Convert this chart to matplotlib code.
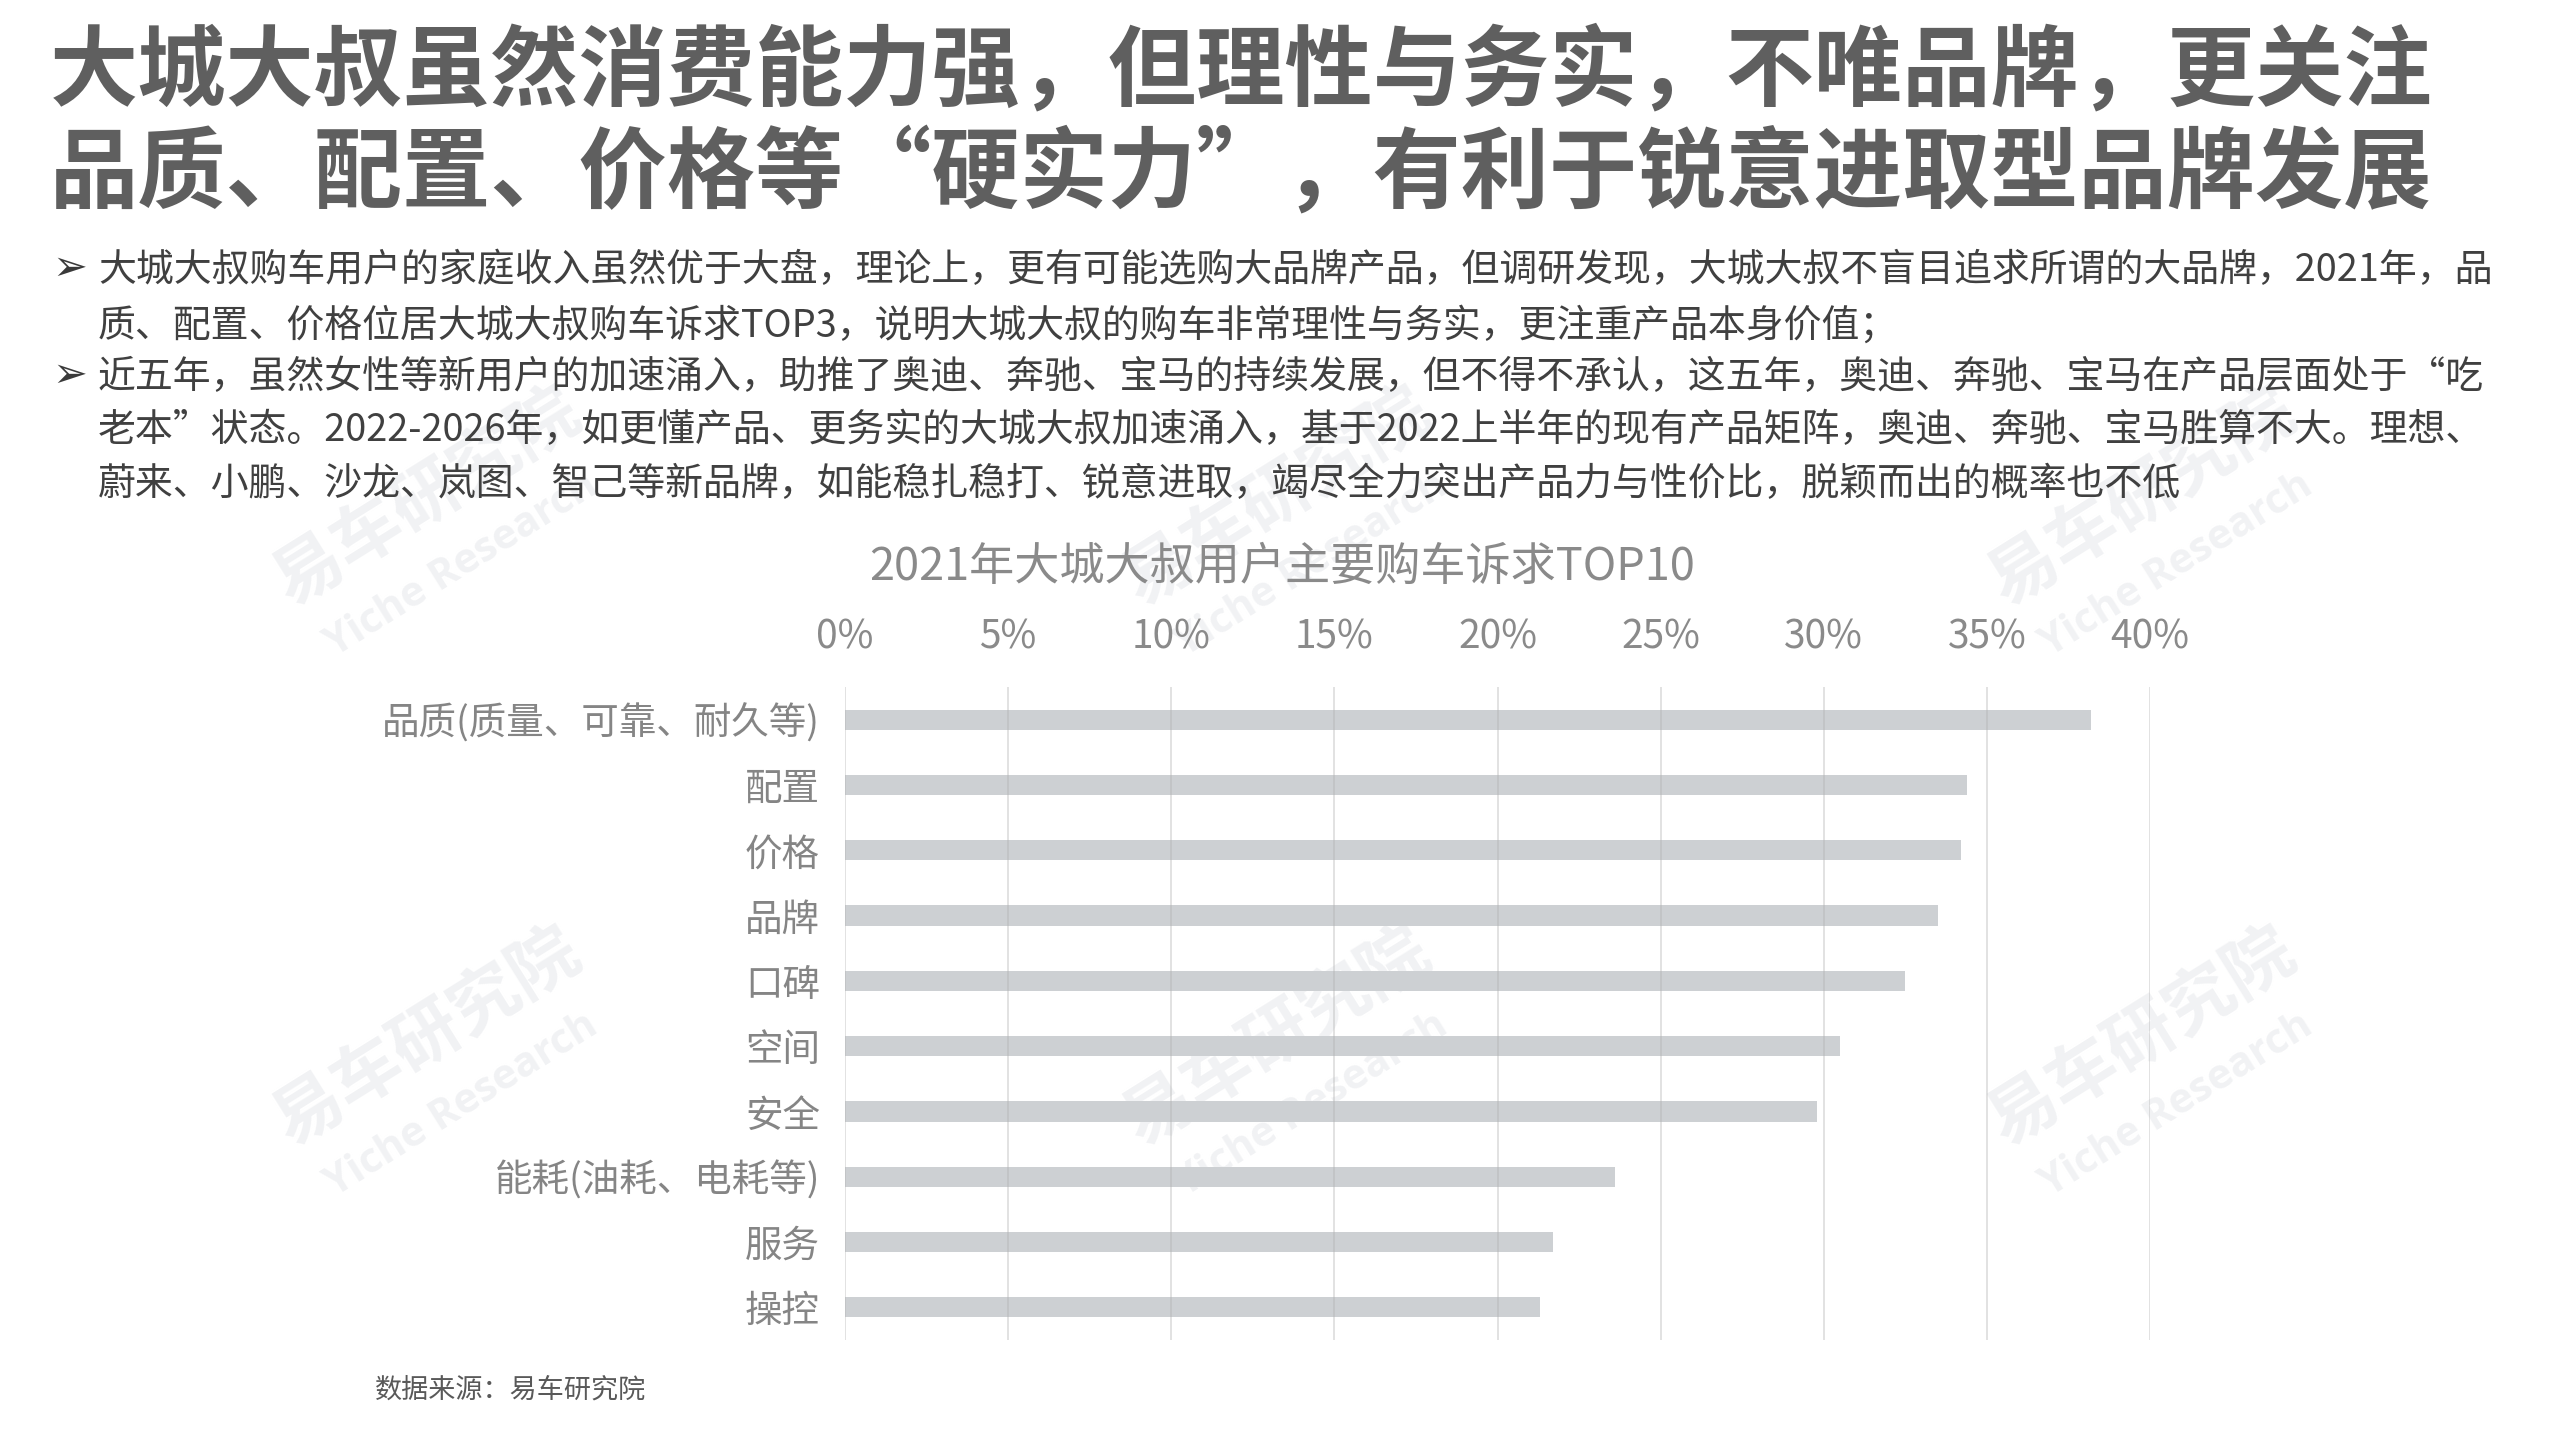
import matplotlib
matplotlib.use("Agg")
import matplotlib.pyplot as plt
import numpy as np

plt.rcParams['font.family'] = ['Noto Sans CJK SC', 'DejaVu Sans']

# 数据
categories = ['品质(质量、可靠、耐久等)', '配置', '价格', '品牌', '口碑',
              '空间', '安全', '能耗(油耗、电耗等)', '服务', '操控']
shares = [38.2, 34.4, 34.2, 33.5, 32.5, 30.5, 29.8, 23.6, 21.7, 21.3]
x_ticks = [0, 5, 10, 15, 20, 25, 30, 35, 40]

headline = ["大城大叔虽然消费能力强，但理性与务实，不唯品牌，更关注",
            "品质、配置、价格等“硬实力”，有利于锐意进取型品牌发展"]
bullet_1 = ["大城大叔购车用户的家庭收入虽然优于大盘，理论上，更有可能选购大品牌产品，但调研发现，大城大叔不盲目追求所谓的大品牌，2021年，品",
            "质、配置、价格位居大城大叔购车诉求TOP3，说明大城大叔的购车非常理性与务实，更注重产品本身价值；"]
bullet_2 = ["近五年，虽然女性等新用户的加速涌入，助推了奥迪、奔驰、宝马的持续发展，但不得不承认，这五年，奥迪、奔驰、宝马在产品层面处于“吃",
            "老本”状态。2022-2026年，如更懂产品、更务实的大城大叔加速涌入，基于2022上半年的现有产品矩阵，奥迪、奔驰、宝马胜算不大。理想、",
            "蔚来、小鹏、沙龙、岚图、智己等新品牌，如能稳扎稳打、锐意进取，竭尽全力突出产品力与性价比，脱颖而出的概率也不低"]
chart_title = "2021年大城大叔用户主要购车诉求TOP10"
source = "数据来源：易车研究院"

W, H = 2560, 1440
fig = plt.figure(figsize=(W / 100, H / 100), dpi=100, facecolor="white")

def fx(px):
    return px / W

def fy(py):
    return 1 - py / H

# 水印
for (cx, cy) in [(440, 520), (1290, 520), (2155, 520), (440, 1060), (1290, 1060), (2155, 1060)]:
    fig.text(fx(cx - 12), fy(cy - 22), "易车研究院", rotation=32, ha="center", va="center",
             fontsize=50, fontweight="bold", color="#f1f2f4", zorder=-5)
    fig.text(fx(cx + 22), fy(cy + 45), "Yiche Research", rotation=32, ha="center", va="center",
             fontsize=30, fontweight="bold", color="#f1f2f4", zorder=-5,
             family=["Open Sans", "DejaVu Sans"])

# 标题
for i, line in enumerate(headline):
    fig.text(fx(50), fy(72 + i * 103), line, ha="left", va="center",
             fontsize=63.5, fontweight="bold", color="#5f5f5f")

# 要点
line_y = [271, 326, 378, 431, 485]
rows = [(True, bullet_1[0]), (False, bullet_1[1]),
        (True, bullet_2[0]), (False, bullet_2[1]), (False, bullet_2[2])]
for y, (has_arrow, txt) in zip(line_y, rows):
    if has_arrow:
        fig.text(fx(52), fy(y - 3), "➢", ha="left", va="center", fontsize=30,
                 color="#3a3a3a", family=["DejaVu Sans"])
    fig.text(fx(98), fy(y), txt, ha="left", va="center", fontsize=27.3, color="#404040")

# 图表
ax = fig.add_axes([fx(845), fy(1340), fx(2150) - fx(845), fy(687) - fy(1340)])
ax.patch.set_visible(False)
ypos = np.arange(len(categories))
ax.barh(ypos, shares, height=0.31, color="#cdd0d3", zorder=1)
ax.set_ylim(len(categories) - 0.5, -0.5)
ax.set_xlim(0, 40)
ax.set_xticks(x_ticks)
ax.set_xticklabels([f"{t}%" for t in x_ticks])
ax.set_yticks(ypos)
ax.set_yticklabels(categories)
ax.xaxis.tick_top()
ax.tick_params(axis="x", length=0, pad=21, labelsize=28, labelcolor="#8a8a8a")
ax.tick_params(axis="y", length=0, pad=18, labelsize=27, labelcolor="#858585")
for s in ax.spines.values():
    s.set_visible(False)
ax.grid(axis="x", color="#b0b0b0", alpha=0.4, linewidth=1.3, zorder=2)
ax.set_axisbelow(False)

fig.text(fx(1282), fy(567), chart_title, ha="center", va="center",
         fontsize=32.5, color="#8a8a8a")
fig.text(fx(375), fy(1390), source, ha="left", va="center", fontsize=19.5, color="#595959")

fig.savefig("out.png", dpi=100, facecolor="white")
